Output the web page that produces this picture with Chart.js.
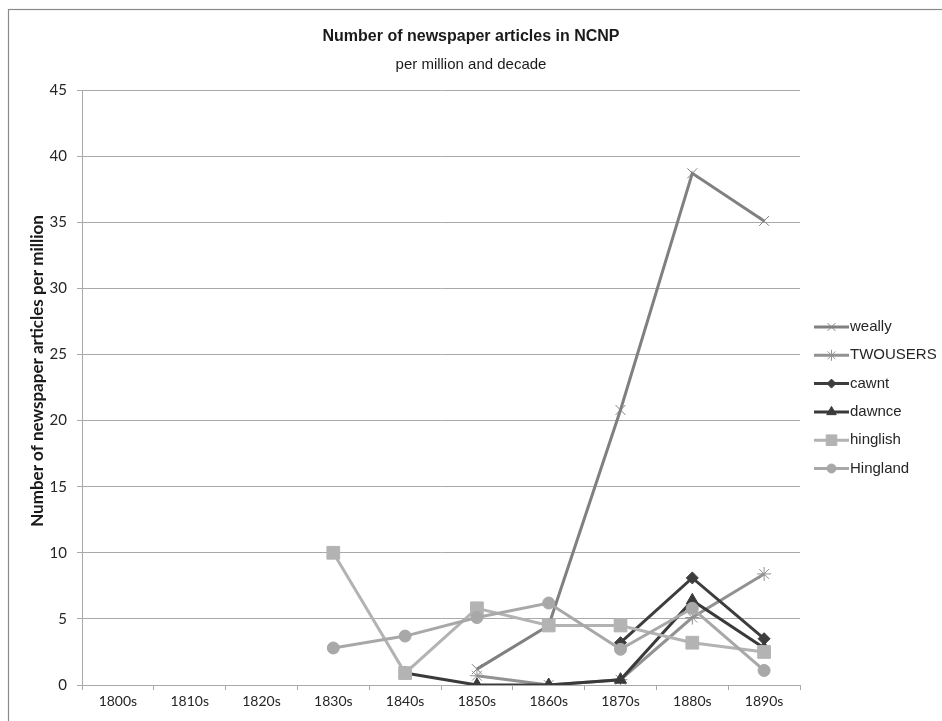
<!DOCTYPE html>
<html>
<head>
<meta charset="utf-8">
<title>Number of newspaper articles in NCNP</title>
<script src="https://cdn.jsdelivr.net/npm/chart.js@4/dist/chart.umd.min.js"></script>
<style>
  html, body { margin: 0; padding: 0; background: #ffffff; }
  #wrap { position: relative; width: 942px; height: 721px; }
</style>
</head>
<body>
<div id="wrap"><canvas id="chart"></canvas></div>
<script>
// Decades on the x axis
const decades = ['1800s', '1810s', '1820s', '1830s', '1840s', '1850s', '1860s', '1870s', '1880s', '1890s'];

// Articles per million, by decade (null = no occurrences recorded)
const weally   = [null, null, null, null, null, 1.2, 4.5, 20.8, 38.7, 35.1];
const twousers = [null, null, null, null, null, 0.7, 0.0, 0.4, 5.1, 8.4];
const cawnt    = [null, null, null, null, null, null, null, 3.2, 8.1, 3.5];
const dawnce   = [null, null, null, null, 0.9, 0.0, 0.0, 0.4, 6.4, 2.8];
const hinglish = [null, null, null, 10.0, 0.9, 5.8, 4.5, 4.5, 3.2, 2.5];
const hingland = [null, null, null, 2.8, 3.7, 5.1, 6.2, 2.7, 5.8, 1.1];

// Y axis range and step
const yMin = 0;
const yMax = 45;
const yStep = 5;

// Chart texts
const titleText = 'Number of newspaper articles in NCNP';
const subtitleText = 'per million and decade';
const yTitleText = 'Number of newspaper articles per million';

const GRID = '#a9a9a9';
const TEXT = '#262626';

function series(label, data, color, style, radius, order) {
  return {
    label: label,
    data: data,
    borderColor: color,
    backgroundColor: color,
    borderWidth: 3,
    pointStyle: style,
    pointRadius: radius,
    pointHoverRadius: radius,
    pointBorderWidth: 1,
    pointBackgroundColor: color,
    pointBorderColor: color,
    tension: 0,
    spanGaps: false,
    order: order
  };
}

// Later series are drawn on top (lower order = drawn last)
const datasets = [
  series('weally',   weally,   '#808080', 'crossRot', 7, 6),
  series('TWOUSERS', twousers, '#929292', 'star',     7, 5),
  series('cawnt',    cawnt,    '#3d3d3d', 'rectRot',  6, 4),
  series('dawnce',   dawnce,   '#3a3a3a', 'triangle', 7, 3),
  series('hinglish', hinglish, '#b3b3b3', 'rect',     9, 2),
  series('Hingland', hingland, '#a8a8a8', 'circle',   6, 1)
];

// White background and the outer frame of the chart
const framePlugin = {
  id: 'frame',
  beforeDraw(chart) {
    const ctx = chart.ctx;
    ctx.save();
    ctx.fillStyle = '#ffffff';
    ctx.fillRect(0, 0, chart.width, chart.height);
    ctx.strokeStyle = '#8a8a8a';
    ctx.lineWidth = 1.2;
    ctx.strokeRect(8.5, 9.5, 1200, 1200);
    ctx.restore();
  }
};

// Title, subtitle and the rotated y axis title
const headingPlugin = {
  id: 'heading',
  afterDraw(chart) {
    const ctx = chart.ctx;
    const cx = chart.width / 2;
    ctx.save();
    ctx.fillStyle = '#1a1a1a';
    ctx.textAlign = 'center';
    ctx.textBaseline = 'middle';
    ctx.font = 'bold 16px "Liberation Sans", Arial, sans-serif';
    ctx.fillText(titleText, cx, 37);
    ctx.font = '15px "Liberation Sans", Arial, sans-serif';
    ctx.fillText(subtitleText, cx, 65);

    ctx.translate(38, 371);
    ctx.rotate(-Math.PI / 2);
    ctx.font = 'bold 17px Lato, Carlito, Calibri, sans-serif';
    ctx.fillText(yTitleText, 0, 0);
    ctx.restore();
  }
};

// Legend on the right: a short line with the series marker, then the name
const sideLegend = {
  id: 'sideLegend',
  afterDraw(chart) {
    const ctx = chart.ctx;
    const x0 = 814, x1 = 849, top = 327, step = 28.3;
    ctx.save();
    chart.data.datasets.forEach((ds, i) => {
      const y = top + i * step;
      ctx.strokeStyle = ds.borderColor;
      ctx.lineWidth = 3;
      ctx.beginPath();
      ctx.moveTo(x0, y);
      ctx.lineTo(x1, y);
      ctx.stroke();
      ctx.fillStyle = ds.pointBackgroundColor;
      ctx.strokeStyle = ds.pointBorderColor;
      ctx.lineWidth = ds.pointBorderWidth;
      Chart.helpers.drawPoint(ctx, {
        pointStyle: ds.pointStyle,
        radius: ds.pointRadius - 1.5,
        borderWidth: ds.pointBorderWidth,
        rotation: 0
      }, (x0 + x1) / 2, y);
      ctx.fillStyle = TEXT;
      ctx.font = '15px "Liberation Sans", Arial, sans-serif';
      ctx.textAlign = 'left';
      ctx.textBaseline = 'middle';
      ctx.fillText(ds.label, x1 + 1, y);
    });
    ctx.restore();
  }
};

new Chart(document.getElementById('chart'), {
  type: 'line',
  data: { labels: decades, datasets: datasets },
  plugins: [framePlugin, headingPlugin, sideLegend],
  options: {
    responsive: true,
    maintainAspectRatio: false,
    animation: false,
    layout: { padding: { top: 90, right: 142, bottom: 0, left: 26 } },
    plugins: {
      legend: { display: false },
      tooltip: { enabled: false },
      title: { display: false },
      subtitle: { display: false }
    },
    scales: {
      x: {
        type: 'category',
        offset: true,
        afterFit(scale) { scale.height = 36; },
        grid: {
          offset: true,
          drawOnChartArea: false,
          drawTicks: true,
          tickLength: 5,
          color: GRID,
          lineWidth: 1
        },
        border: { display: true, color: GRID, width: 1 },
        ticks: {
          color: TEXT,
          padding: 3,
          maxRotation: 0,
          autoSkip: false,
          font: { family: 'Lato, Carlito, Calibri, sans-serif', size: 14 }
        }
      },
      y: {
        min: yMin,
        max: yMax,
        afterFit(scale) { scale.width = 56; },
        grid: {
          drawOnChartArea: true,
          drawTicks: true,
          tickLength: 5,
          color: GRID,
          lineWidth: 1
        },
        border: { display: true, color: GRID, width: 1 },
        ticks: {
          stepSize: yStep,
          color: TEXT,
          padding: 10,
          font: { family: 'Lato, Carlito, Calibri, sans-serif', size: 15 }
        },
        title: { display: false }
      }
    }
  }
});
</script>
</body>
</html>
